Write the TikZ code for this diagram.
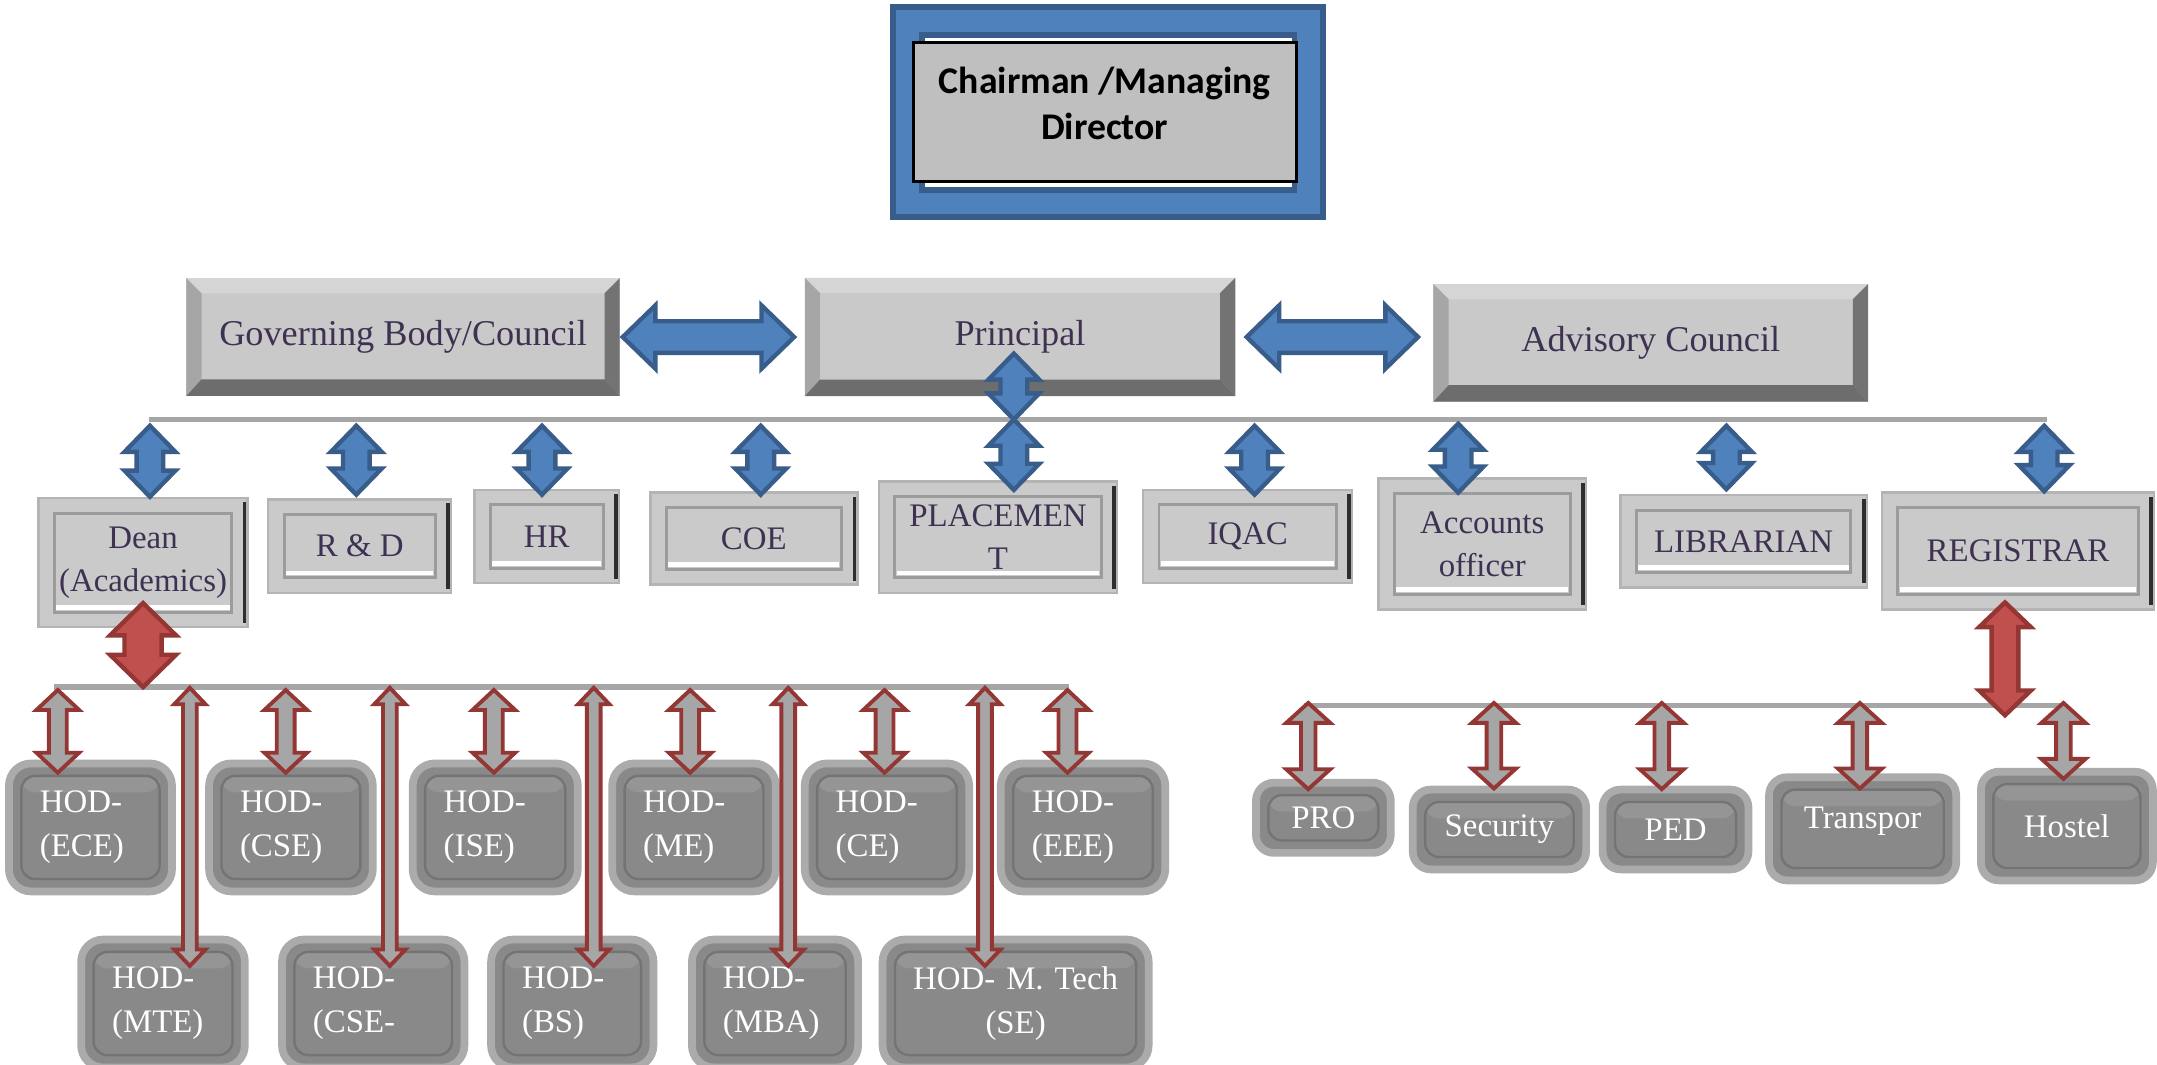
\documentclass[tikz,border=0pt]{standalone}
\usepackage{fontspec}
\setmainfont{Liberation Serif}
\newfontfamily\carlito{Carlito}
\usepackage{tikz}
\usetikzlibrary{calc,positioning}

\definecolor{blueface}{HTML}{4F81BD}
\definecolor{blueedge}{HTML}{385D8A}
\definecolor{redface}{HTML}{C0504D}
\definecolor{rededge}{HTML}{943634}
\definecolor{busgray}{HTML}{A6A6A6}
\definecolor{boxtext}{HTML}{3F3151}
\definecolor{chairgray}{HTML}{BFBFBF}
\definecolor{bevface}{HTML}{C9C9C9}
\definecolor{bevtop}{HTML}{D5D5D5}
\definecolor{bevleft}{HTML}{A6A6A6}
\definecolor{bevright}{HTML}{737373}
\definecolor{bevbottom}{HTML}{6D6D6D}
\definecolor{frameface}{HTML}{CACACA}
\definecolor{framerim}{HTML}{B4B4B4}
\definecolor{frameline}{HTML}{9C9C9C}
\definecolor{frameshadow}{HTML}{2E2E2E}
\definecolor{hodface}{HTML}{898989}
\definecolor{hodrim}{HTML}{ABABAB}
\definecolor{hodline}{HTML}{747474}
\definecolor{hodtop}{HTML}{959595}

\newcommand{\chairfont}{\carlito\bfseries\fontsize{7.8}{9.6}\selectfont}
\newcommand{\toplvlfont}{\fontsize{7.5}{9}\selectfont}
\newcommand{\lvlfont}{\fontsize{6.8}{8.8}\selectfont}
\newcommand{\hodfont}{\fontsize{6.8}{9.1}\selectfont}

% fat double-headed arrow: style, head half width, shaft half width, head length, tip, tip
\newcommand{\fatarrow}[6]{%
  \path (#5) coordinate (fa-a) (#6) coordinate (fa-b);
  \path ($(fa-a)!#4!(fa-b)$) coordinate (fa-c) ($(fa-b)!#4!(fa-a)$) coordinate (fa-d);
  \draw[#1] (fa-a) -- ($(fa-c)!#2!90:(fa-b)$) -- ($(fa-c)!#3!90:(fa-b)$)
    -- ($(fa-d)!#3!-90:(fa-a)$) -- ($(fa-d)!#2!-90:(fa-a)$) -- (fa-b)
    -- ($(fa-d)!#2!90:(fa-a)$) -- ($(fa-d)!#3!90:(fa-a)$)
    -- ($(fa-c)!#3!-90:(fa-b)$) -- ($(fa-c)!#2!-90:(fa-b)$) -- cycle;
}
\newcommand{\sidearrow}[2]{\fatarrow{bluearr}{2.3mm}{1.15mm}{2.37mm}{#1}{#2}}
\newcommand{\bluearrow}[2]{\fatarrow{bluearr}{1.85mm}{0.97mm}{1.9mm}{#1}{#2}}
\newcommand{\hodarrow}[2]{\fatarrow{grayarr}{1.55mm}{0.65mm}{1.45mm}{#1}{#2}}
\newcommand{\hodlongarrow}[2]{\fatarrow{grayarr}{1.14mm}{0.5mm}{1.2mm}{#1}{#2}}
\newcommand{\unitarrow}[2]{\fatarrow{grayarr}{1.6mm}{0.53mm}{1.45mm}{#1}{#2}}

\tikzset{
  busline/.style={busgray, line width=1.2pt},
  bluearr/.style={fill=blueface, draw=blueedge, line width=0.9pt, line join=miter},
  redarr/.style={fill=redface, draw=rededge, line width=0.9pt, line join=miter},
  grayarr/.style={fill=busgray, draw=rededge, line width=0.8pt, line join=miter},
  chairbox/.style={fill=chairgray, draw=black, line width=0.6pt, inner sep=0pt},
  chairtext/.style={font=\chairfont, align=center, inner sep=0pt},
  lvl2/.style={fill=bevface, text=boxtext, font=\toplvlfont, inner sep=0pt,
    path picture={
      \path (path picture bounding box.north west) coordinate (pnw)
            (path picture bounding box.north east) coordinate (pne)
            (path picture bounding box.south west) coordinate (psw)
            (path picture bounding box.south east) coordinate (pse);
      \fill[bevtop] (pnw) -- (pne) -- ([shift={(-1.1mm,-1.1mm)}]pne) -- ([shift={(1.1mm,-1.1mm)}]pnw) -- cycle;
      \fill[bevleft] (pnw) -- ([shift={(1.1mm,-1.1mm)}]pnw) -- ([shift={(1.1mm,1.2mm)}]psw) -- (psw) -- cycle;
      \fill[bevright] (pne) -- ([shift={(-1.1mm,-1.1mm)}]pne) -- ([shift={(-1.1mm,1.2mm)}]pse) -- (pse) -- cycle;
      \fill[bevbottom] (psw) -- ([shift={(1.1mm,1.2mm)}]psw) -- ([shift={(-1.1mm,1.2mm)}]pse) -- (pse) -- cycle;
    }},
  lvl3/.style={fill=frameface, draw=framerim, line width=0.5pt, text=boxtext, font=\lvlfont,
    align=center, inner sep=0pt,
    path picture={
      \draw[frameline, line width=0.6pt] ([shift={(1.15mm,-1.1mm)}]path picture bounding box.north west)
        rectangle ([shift={(-1.15mm,1.1mm)}]path picture bounding box.south east);
      \draw[white, line width=1pt] ([shift={(1.3mm,1.45mm)}]path picture bounding box.south west)
        -- ([shift={(-1.3mm,1.45mm)}]path picture bounding box.south east);
      \fill[frameshadow] ([shift={(-0.35mm,-0.3mm)}]path picture bounding box.north east)
        rectangle ([yshift=0.3mm]path picture bounding box.south east);
    }},
  hodbase/.style={fill=hodface, draw=hodrim, line width=1.6pt, rounded corners=1.6mm,
    text=white,
    path picture={
      \fill[hodtop, rounded corners=1mm] ([shift={(0.9mm,-0.9mm)}]path picture bounding box.north west)
        rectangle ([shift={(-0.9mm,-2.1mm)}]path picture bounding box.north east);
      \draw[hodline, line width=0.5pt, rounded corners=1mm] ([shift={(0.9mm,-0.9mm)}]path picture bounding box.north west)
        rectangle ([shift={(-0.9mm,0.9mm)}]path picture bounding box.south east);
    }},
  hod/.style={hodbase, font=\hodfont, align=left, inner xsep=2.25mm, inner ysep=0pt,
    minimum height=9.3mm},
  unit/.style={hodbase, rounded corners=1.3mm, font=\lvlfont, align=center, inner sep=0pt},
  unitlbl/.style={text=white, font=\lvlfont, yshift=0.55mm}
}

\begin{document}
\begin{tikzpicture}[x=0.1mm, y=-0.1mm]
  \useasboundingbox (0,0) rectangle (1568,774);

  % Chairman
  \draw[fill=blueface, draw=blueedge, line width=1.2pt] (649,5) rectangle (962,158);
  \fill[blueedge] (668,23) rectangle (943,140);
  \fill[white] (672.5,27.5) rectangle (939,136);
  \node[chairbox, minimum width=27.85mm, minimum height=10.1mm] (chair) at (803,81.5) {};
  \node[chairtext] (chairlbl) at (803,75) {Chairman /Managing\\Director};

  % Level 2
  \node[lvl2, minimum width=31.5mm, minimum height=8.55mm] (gov) at (293,245) {Governing Body/Council};
  \node[lvl2, minimum width=31.3mm, minimum height=8.6mm] (prin) at (741.5,245) {Principal};
  \node[lvl2, minimum width=31.6mm, minimum height=8.55mm] (adv) at (1200,249.3) {Advisory Council};

  % Level 3
  \node[lvl3, minimum width=15.2mm, minimum height=9.4mm] (dean) at (104,409) {Dean\\(Academics)};
  \node[lvl3, minimum width=13.3mm, minimum height=6.8mm] (rnd) at (261.5,397) {R \& D};
  \node[lvl3, minimum width=10.5mm, minimum height=6.8mm] (hr) at (397.5,390) {HR};
  \node[lvl3, minimum width=15.05mm, minimum height=6.7mm] (coe) at (548,391.5) {COE};
  \node[lvl3, minimum width=17.3mm, minimum height=8.1mm] (place) at (725.5,390.5) {PLACEMEN\\T};
  \node[lvl3, minimum width=15.2mm, minimum height=6.8mm] (iqac) at (907,390) {IQAC};
  \node[lvl3, minimum width=15.1mm, minimum height=9.5mm] (acc) at (1077.5,395.5) {Accounts\\officer};
  \node[lvl3, minimum width=17.9mm, minimum height=6.7mm] (lib) at (1267.5,393.5) {LIBRARIAN};
  \node[lvl3, minimum width=19.8mm, minimum height=8.5mm] (reg) at (1467,400.5) {REGISTRAR};

  % HODs
  \node[hod, text width=7.35mm] (ece) at (65.75,601.5) {HOD-\\(ECE)};
  \node[hod, text width=7.4mm] (cse) at (211.5,601.5) {HOD-\\(CSE)};
  \node[hod, text width=7.5mm] (ise) at (360,601.5) {HOD-\\(ISE)};
  \node[hod, text width=7.4mm] (me) at (504.5,601.5) {HOD-\\(ME)};
  \node[hod, text width=7.45mm] (ce) at (644.75,601.5) {HOD-\\(CE)};
  \node[hod, text width=7.45mm] (eee) at (787.3,601.5) {HOD-\\(EEE)};
  \node[hod, text width=7.4mm] (mte) at (118.5,729.5) {HOD-\\(MTE)};
  \node[hod, text width=8.76mm] (csem) at (271.3,729.5) {HOD-\\(CSE-};
  \node[hod, text width=7.3mm] (bs) at (416,729.5) {HOD-\\(BS)};
  \node[hod, text width=7.58mm] (mba) at (563.4,729.5) {HOD-\\(MBA)};
  \node[hod, text width=15.5mm, inner xsep=1.92mm, align=center] (mtech) at (738.3,729.5) {HOD- M. Tech\\(SE)};

  % Registrar units
  \node[unit, minimum width=9.8mm, minimum height=5.1mm] (pro) at (962,594.5) {PRO};
  \node[unit, minimum width=12.6mm, minimum height=5.8mm] (sec) at (1090,603) {Security};
  \node[unit, minimum width=10.6mm, minimum height=5.8mm] (ped) at (1218,603) {PED};
  \node[unit, minimum width=13.6mm, minimum height=7.5mm,
        label={[unitlbl]center:Transpor}] (trans) at (1354,602.5) {};
  \node[unit, minimum width=12.5mm, minimum height=7.9mm] (hostel) at (1502.5,600.5) {Hostel};

  % Bus lines
  \coordinate (busL) at (108,305);
  \coordinate (busR) at (1488,305);
  \draw[busline] (busL) -- (busR);
  \coordinate (hbusL) at (39.6,499.5);
  \coordinate (hbusR) at (777,499.5);
  \draw[busline, line width=1.1pt] (hbusL) -- (hbusR);
  \coordinate (ubusL) at (948,513);
  \coordinate (ubusR) at (1500,513);
  \draw[busline, line width=1.1pt] (ubusL) -- (ubusR);

  % Level 2 arrows
  \sidearrow{[xshift=0.15mm]gov.east}{[xshift=-0.7mm]prin.west}
  \sidearrow{[xshift=0.75mm]prin.east}{[xshift=-1.05mm]adv.west |- prin.east}
  \coordinate (ptop) at (737,257);
  \coordinate (b-place) at (737,305);
  \bluearrow{ptop}{b-place}

  % Level 3 arrows
  \coordinate (b-dean) at (109,309.5);
  \coordinate (b-rnd) at (259,309.5);
  \coordinate (b-hr) at (394,309.5);
  \coordinate (b-coe) at (553,309.5);
  \coordinate (b-iqac) at (912,309.5);
  \coordinate (b-acc) at (1060,308);
  \coordinate (b-lib) at (1255,309.5);
  \coordinate (b-reg) at (1486,309.5);
  \bluearrow{b-dean}{b-dean |- dean.north}
  \bluearrow{b-rnd}{[yshift=0.25mm]b-rnd |- rnd.north}
  \bluearrow{b-hr}{[yshift=-0.45mm]b-hr |- hr.north}
  \bluearrow{b-coe}{[yshift=-0.25mm]b-coe |- coe.north}
  \bluearrow{b-place}{[yshift=-0.7mm]b-place |- place.north}
  \bluearrow{b-iqac}{[yshift=-0.45mm]b-iqac |- iqac.north}
  \bluearrow{b-acc}{[yshift=-1.1mm]b-acc |- acc.north}
  \bluearrow{b-lib}{[yshift=0.35mm]b-lib |- lib.north}
  \bluearrow{b-reg}{b-reg |- reg.north}

  % Red arrows
  \coordinate (d-drop) at (104,499.5);
  \fatarrow{redarr}{2.4mm}{1.35mm}{2.35mm}{[yshift=1.85mm]d-drop |- dean.south}{d-drop}
  \coordinate (r-drop) at (1457.5,513);
  \fatarrow{redarr}{1.88mm}{0.97mm}{1.8mm}{[yshift=0.6mm]r-drop |- reg.south}{[yshift=-0.7mm]r-drop}

  % HOD arrows
  \coordinate (h-ece) at (42,501.6);
  \coordinate (h-cse) at (207.7,501.6);
  \coordinate (h-ise) at (359,501.6);
  \coordinate (h-me) at (501.7,501.6);
  \coordinate (h-ce) at (643,501.6);
  \coordinate (h-eee) at (776,501.6);
  \hodarrow{h-ece}{[yshift=-0.95mm]h-ece |- ece.north}
  \hodarrow{h-cse}{[yshift=-0.95mm]h-cse |- cse.north}
  \hodarrow{h-ise}{[yshift=-0.95mm]h-ise |- ise.north}
  \hodarrow{h-me}{[yshift=-0.95mm]h-me |- me.north}
  \hodarrow{h-ce}{[yshift=-0.95mm]h-ce |- ce.north}
  \hodarrow{h-eee}{[yshift=-0.95mm]h-eee |- eee.north}
  \coordinate (v-mte) at (138,500);
  \coordinate (v-csem) at (283.4,500);
  \coordinate (v-bs) at (431.6,500);
  \coordinate (v-mba) at (573,500);
  \coordinate (v-mtech) at (716,500);
  \hodlongarrow{v-mte}{[yshift=-2.2mm]v-mte |- mte.north}
  \hodlongarrow{v-csem}{[yshift=-2.2mm]v-csem |- csem.north}
  \hodlongarrow{v-bs}{[yshift=-2.2mm]v-bs |- bs.north}
  \hodlongarrow{v-mba}{[yshift=-2.2mm]v-mba |- mba.north}
  \hodlongarrow{v-mtech}{[yshift=-2.2mm]v-mtech |- mtech.north}

  % Unit arrows
  \coordinate (s-pro) at (951,511);
  \coordinate (s-sec) at (1086,511);
  \coordinate (s-ped) at (1208,511);
  \coordinate (s-trans) at (1352,511);
  \coordinate (s-hostel) at (1500,511);
  \unitarrow{s-pro}{[yshift=-0.75mm]s-pro |- pro.north}
  \unitarrow{s-sec}{[yshift=-0.2mm]s-sec |- sec.north}
  \unitarrow{s-ped}{[yshift=-0.25mm]s-ped |- ped.north}
  \unitarrow{s-trans}{[yshift=-1.1mm]s-trans |- trans.north}
  \unitarrow{s-hostel}{[yshift=-0.8mm]s-hostel |- hostel.north}
\end{tikzpicture}
\end{document}
